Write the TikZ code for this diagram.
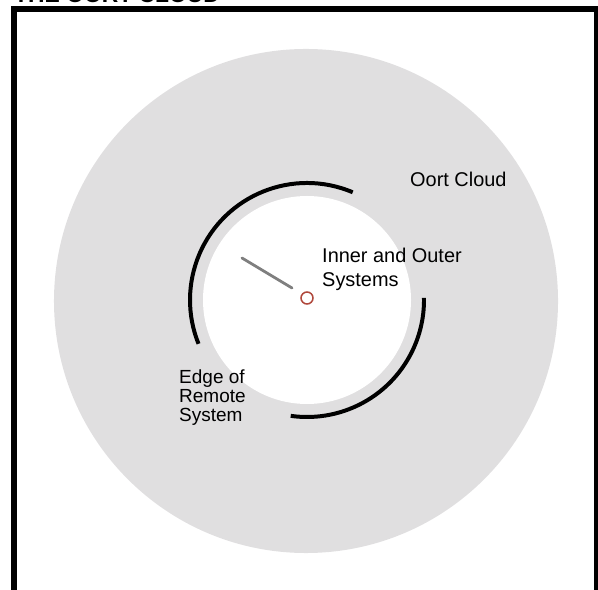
\documentclass[tikz,border=0pt]{standalone}
\usepackage{fontspec}
\setmainfont{Liberation Sans}
\usepackage{tikz}
\usetikzlibrary{calc,positioning}
\definecolor{oortGray}{HTML}{E0DFE0}
\definecolor{oortRed}{HTML}{B0483C}
\definecolor{oortNeedle}{HTML}{7F7F7F}

\begin{document}
\begin{tikzpicture}[x=0.03cm,y=0.03cm,
  cloud/.style={circle,fill=oortGray,inner sep=0pt,minimum size=15.12cm},
  hole/.style={circle,fill=white,inner sep=0pt,minimum size=6.24cm},
  sun/.style={circle,draw=oortRed,line width=1.3pt,fill=white,inner sep=0pt,minimum size=0.36cm},
  edge/.style={line width=3.4pt,black},
  lbl/.style={font=\fontsize{17}{20.5}\selectfont,align=left,anchor=base west,inner sep=0pt},
  frm/.style={line width=5.1pt,black}]
  \useasboundingbox (0,0) rectangle (598,589);
  \clip (0,0) rectangle (598,589);
  % title, mostly cut off at the top
  \node[anchor=base west,inner sep=0pt,font=\fontsize{19.5}{22}\selectfont\bfseries] (title) at (14,586) {THE OORT CLOUD};
  \draw[frm] (14,-10) |- (597,580) -- (597,-10);

  \node[cloud] (cloud) at (306,288) {};
  \node[hole]  (inner) at (307,289) {};
  \coordinate (c) at (307,289);
  % edge of the remote system
  \draw[edge] (c) ++(67:117) arc[start angle=67,end angle=202,radius=117];
  \draw[edge] (c) ++(1:117) arc[start angle=1,end angle=-98,radius=117];

  \node[sun] (sun) at (307,291) {};
  \coordinate (tail) at (242,331);
  \coordinate (tip)  at (292,301);
  \draw[oortNeedle,line width=2.4pt,line cap=round] (tail) -- (tip);

  \node[lbl] (oort) at (410,402) {Oort Cloud};
  % base anchor sits on the last line
  \node[lbl] (sys)  at (322,302) {Inner and Outer\\Systems};
  \node[lbl,font=\fontsize{16.2}{16.2}\selectfont] (rem) at (179,168) {Edge of\\Remote\\System};
\end{tikzpicture}
\end{document}
